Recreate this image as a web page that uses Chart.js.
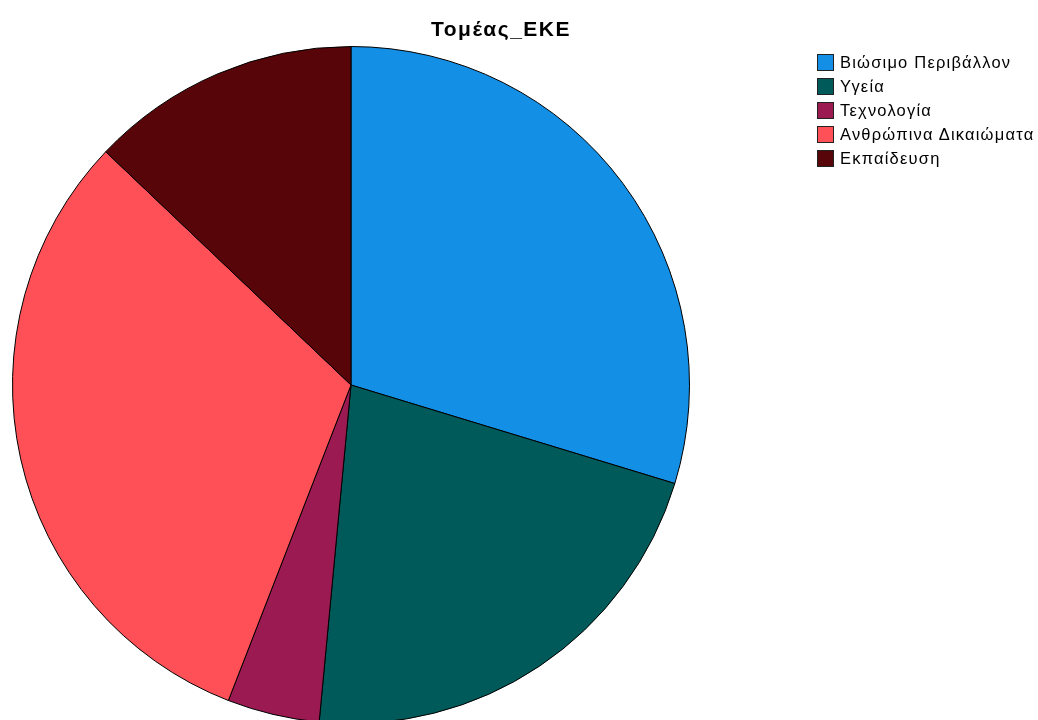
<!DOCTYPE html>
<html>
<head>
<meta charset="utf-8">
<script src="https://cdn.jsdelivr.net/npm/chart.js@4"></script>
<style>
  html, body { margin: 0; padding: 0; background: #fff; overflow: hidden; }
  #wrap { position: relative; width: 1038px; height: 720px; overflow: hidden; }
  #box { position: absolute; left: 0; top: 0; width: 1038px; height: 740px; }
  #title { position: absolute; left: 0; width: 1002px; top: 17px; text-align: center;
    font: bold 21px "Liberation Sans", Arial, sans-serif; letter-spacing: 1.5px; color: #000; }
  #legend { position: absolute; left: 817px; top: 50px; font: 16.5px "Liberation Sans", Arial, sans-serif;
    letter-spacing: 1.2px; color: #000; white-space: nowrap; }
  .row { height: 24px; display: flex; align-items: center; }
  .sw { width: 15px; height: 15px; border: 1px solid #222; margin-right: 6px; flex: none; }
</style>
</head>
<body>
<div id="wrap">
  <div id="box"><canvas id="myChart"></canvas></div>
  <div id="title"></div>
  <div id="legend"></div>
</div>
<script>
var titleText = 'Τομέας_ΕΚΕ'
var categories = ['Βιώσιμο Περιβάλλον', 'Υγεία', 'Τεχνολογία', 'Ανθρώπινα Δικαιώματα', 'Εκπαίδευση']
var values = [29.7, 21.8, 4.4, 31.2, 12.9]
var colors = ['#148FE6', '#005A5A', '#9C1A52', '#FF5057', '#570508']

window.onload = function() {
  document.getElementById('title').textContent = titleText

  var legend = document.getElementById('legend')
  for (var i = 0; i < categories.length; i++) {
    var row = document.createElement('div')
    row.className = 'row'
    var sw = document.createElement('div')
    sw.className = 'sw'
    sw.style.background = colors[i]
    var label = document.createElement('span')
    label.textContent = categories[i]
    row.appendChild(sw)
    row.appendChild(label)
    legend.appendChild(row)
  }

  const data = {
    labels: categories,
    datasets: [{
      data: values,
      backgroundColor: colors,
      borderColor: '#000',
      borderWidth: 1
    }]
  };

  const config = {
    type: 'pie',
    data: data,
    options: {
      responsive: true,
      maintainAspectRatio: false,
      animation: false,
      layout: { padding: { left: 12, right: 348, top: 46, bottom: 16 } },
      plugins: {
        legend: { display: false },
        title: { display: false },
        tooltip: { enabled: false }
      }
    }
  };

  const myChart = new Chart(document.getElementById('myChart'), config);
};
</script>
</body>
</html>
